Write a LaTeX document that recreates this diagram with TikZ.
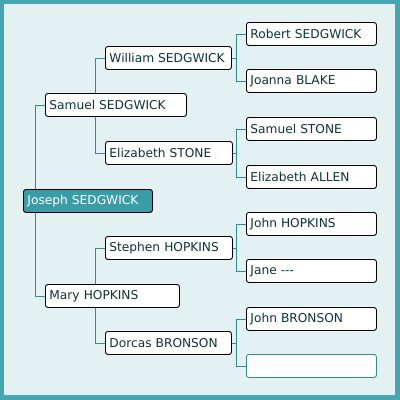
\documentclass[tikz,border=0pt]{standalone}
\usepackage{fontspec}
\setmainfont{DejaVu Sans}
\definecolor{frame}{HTML}{46A6B1}
\definecolor{paper}{HTML}{E4F1F3}
\definecolor{conn}{HTML}{2E8C92}
\definecolor{ink}{HTML}{0D3436}
\definecolor{rootfill}{HTML}{3A9CA5}
\pgfdeclarelayer{paperlayer}
\pgfdeclarelayer{linklayer}
\pgfsetlayers{paperlayer,linklayer,main}
\begin{document}
\begin{tikzpicture}[x=1pt,y=-1pt,
  person/.style={draw=black, line width=0.9pt, fill=white, rounded corners=2.5pt,
    anchor=north west, minimum height=23pt, inner xsep=4pt, inner ysep=0pt,
    align=left, text=ink, font=\fontsize{12.2}{14}\selectfont},
  root/.style={person, fill=rootfill, text=white},
  emptybox/.style={person, draw=conn},
  link/.style={draw=conn, line width=0.8pt}]
\useasboundingbox (0,0) rectangle (400,400);
% level 0
\node[root, text width=121pt] (joseph) at (23,189) {Joseph SEDGWICK};
% level 1
\node[person, text width=133pt] (samuel) at (45,93) {Samuel SEDGWICK};
\node[person, text width=126pt] (mary) at (45,284) {Mary HOPKINS};
% level 2
\node[person, text width=118pt] (william) at (105,46) {William SEDGWICK};
\node[person, text width=119pt] (estone) at (105,141) {Elizabeth STONE};
\node[person, text width=119pt] (stephen) at (105,236) {Stephen HOPKINS};
\node[person, text width=118pt] (dorcas) at (105,331) {Dorcas BRONSON};
% level 3
\node[person, text width=122pt] (robert) at (246,22) {Robert SEDGWICK};
\node[person, text width=122pt] (joanna) at (246,69) {Joanna BLAKE};
\node[person, text width=122pt] (sstone) at (246,117) {Samuel STONE};
\node[person, text width=122pt] (eallen) at (246,165) {Elizabeth ALLEN};
\node[person, text width=122pt] (jhopkins) at (246,212) {John HOPKINS};
\node[person, text width=122pt] (jane) at (246,259) {Jane {-}{-}{-}};
\node[person, text width=122pt] (jbronson) at (246,307) {John BRONSON};
\node[emptybox, text width=122pt] (empty) at (246,354) {};
\begin{pgfonlayer}{paperlayer}
\fill[frame] (0,0) rectangle (400,400);
\fill[paper] (4,4) rectangle (395,395);
\end{pgfonlayer}
\begin{pgfonlayer}{linklayer}
\draw[link] (samuel.west) -- ++(-10,0) |- (mary.west);
\draw[link] (william.west) -- ++(-10,0) |- (estone.west);
\draw[link] (stephen.west) -- ++(-10,0) |- (dorcas.west);
\draw[link] (robert.west) -- ++(-10,0) |- (joanna.west);
\draw[link] (sstone.west) -- ++(-10,0) |- (eallen.west);
\draw[link] (jhopkins.west) -- ++(-10,0) |- (jane.west);
\draw[link] (jbronson.west) -- ++(-10,0) |- (empty.west);
\draw[link] (william.east) -- ++(5,0);
\draw[link] (estone.east) -- ++(4,0);
\draw[link] (stephen.east) -- ++(4,0);
\draw[link] (dorcas.east) -- ++(5,0);
\end{pgfonlayer}
\end{tikzpicture}
\end{document}
